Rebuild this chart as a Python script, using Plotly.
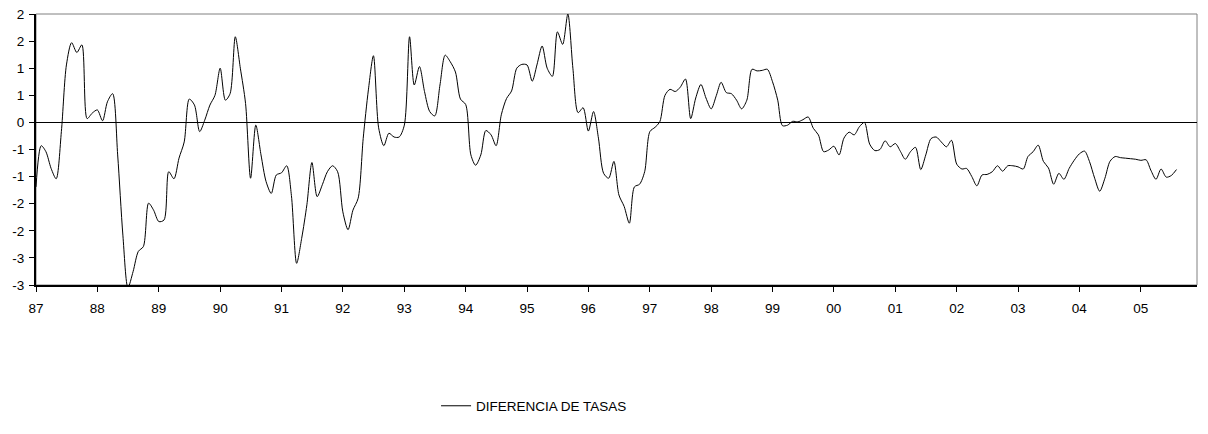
import pandas as pd
import plotly.graph_objects as go

series_name = "DIFERENCIA DE TASAS"
start_month = "1987-01-01"
axis_end = "2005-12-01"

# monthly values, Jan 1987 .. Aug 2005
values = [
    -1.19, -0.43, -0.54, -0.85, -1.04, -0.17, 1.06, 1.47, 1.29, 1.43, 0.07, 0.17,   # 87
    0.23, 0.03, 0.38, 0.53, -0.60, -2.08, -3.05, -2.75, -2.38, -2.29, -1.49, -1.62,  # 88
    -1.83, -1.80, -0.91, -1.04, -0.66, -0.36, 0.43, 0.32, -0.17, 0.04, 0.32, 0.50,   # 89
    1.00, 0.41, 0.53, 1.58, 1.00, 0.35, -1.03, -0.05, -0.60, -1.09, -1.31, -0.97,    # 90
    -0.93, -0.80, -1.35, -2.60, -2.14, -1.52, -0.74, -1.37, -1.15, -0.91, -0.80, -0.91,  # 91
    -1.65, -1.98, -1.62, -1.40, -0.30, 0.60, 1.23, -0.10, -0.43, -0.20, -0.27, -0.27,  # 92
    -0.05, 1.58, 0.69, 1.03, 0.57, 0.20, 0.12, 0.69, 1.24, 1.12, 0.93, 0.43,         # 93
    0.33, -0.60, -0.79, -0.60, -0.15, -0.23, -0.43, 0.14, 0.44, 0.58, 1.00, 1.07,    # 94
    1.06, 0.76, 1.06, 1.41, 1.00, 0.85, 1.67, 1.44, 2.00, 1.00, 0.18, 0.27,          # 95
    -0.16, 0.20, -0.29, -0.94, -1.03, -0.72, -1.34, -1.55, -1.86, -1.19, -1.14, -0.91,  # 96
    -0.17, -0.09, 0.01, 0.50, 0.61, 0.57, 0.65, 0.80, 0.07, 0.45, 0.70, 0.45,        # 97
    0.25, 0.50, 0.74, 0.55, 0.53, 0.41, 0.25, 0.41, 0.98, 0.95, 0.96, 0.98,          # 98
    0.75, 0.41, -0.06, -0.05, 0.02, 0.01, 0.05, 0.10, -0.11, -0.23, -0.54, -0.51,    # 99
    -0.44, -0.60, -0.29, -0.18, -0.23, -0.08, 0.00, -0.40, -0.52, -0.50, -0.34, -0.45,  # 00
    -0.39, -0.54, -0.68, -0.54, -0.46, -0.87, -0.60, -0.30, -0.27, -0.36, -0.45, -0.33,  # 01
    -0.77, -0.86, -0.85, -1.00, -1.17, -0.97, -0.96, -0.91, -0.80, -0.90, -0.80, -0.80,  # 02
    -0.82, -0.86, -0.63, -0.54, -0.42, -0.72, -0.84, -1.14, -0.94, -1.05, -0.85, -0.70,  # 03
    -0.58, -0.53, -0.72, -1.03, -1.27, -1.03, -0.72, -0.63, -0.65, -0.66, -0.67, -0.68,  # 04
    -0.70, -0.69, -0.88, -1.05, -0.86, -1.01, -0.98, -0.87,                          # 05
]

y_ticks = [-3, -2.5, -2, -1.5, -1, -0.5, 0, 0.5, 1, 1.5, 2]
y_tick_labels = ["-3", "-3", "-2", "-2", "-1", "-1", "0", "1", "1", "2", "2"]

dates = pd.date_range(start_month, periods=len(values), freq="MS")

fig = go.Figure()
fig.add_trace(go.Scatter(
    x=dates, y=values, mode="lines", name=series_name,
    line=dict(color="black", width=1, shape="spline", smoothing=0.8),
    showlegend=True,
))

font = dict(family="Liberation Sans, Arial, sans-serif", size=13.5, color="black")

# the page body adds an 8px margin, so the figure is sized to fit inside it
fig.update_layout(
    width=1192, height=418,
    margin=dict(l=28, r=3, t=6, b=141, autoexpand=False),
    paper_bgcolor="white", plot_bgcolor="white",
    font=font,
    showlegend=True,
    legend=dict(orientation="h", xref="container", yref="container",
                x=0.3591, y=1 - 398 / 418, xanchor="left", yanchor="middle",
                font=font, bgcolor="rgba(0,0,0,0)", itemwidth=30),
    shapes=[dict(type="rect", xref="x domain", yref="y domain", x0=0, x1=1, y0=0, y1=1,
                 line=dict(color="#808080", width=1), layer="below")],
)
fig.update_xaxes(
    range=[start_month, axis_end], type="date", automargin=False,
    tickformat="%y", dtick="M12", tick0=start_month,
    showgrid=False, zeroline=False,
    showline=True, linecolor="black", linewidth=2,
    ticks="outside", ticklen=5, tickcolor="black", tickwidth=1,
    tickfont=font, ticklabelstandoff=5, ticklabeloverflow="allow",
)
fig.update_yaxes(
    range=[-3, 2], tickmode="array", tickvals=y_ticks, ticktext=y_tick_labels,
    automargin=False,
    showgrid=False, zeroline=True, zerolinecolor="black", zerolinewidth=1,
    showline=True, linecolor="black", linewidth=2,
    ticks="outside", ticklen=5, tickcolor="black", tickwidth=1,
    tickfont=font, ticklabelstandoff=2, ticklabeloverflow="allow",
)

fig.write_html("out.html")
